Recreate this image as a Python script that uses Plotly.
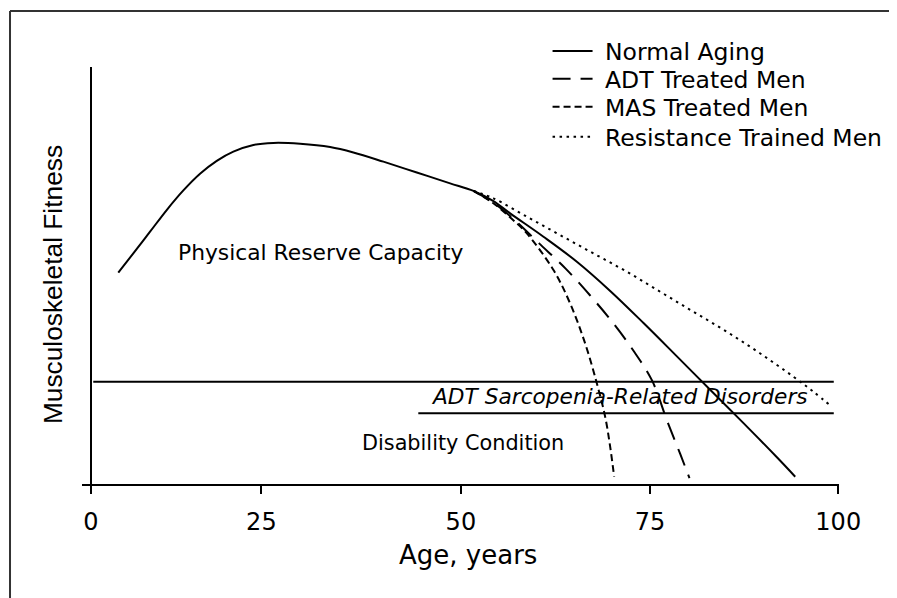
import plotly.graph_objects as go

# ---- data ----
age_normal = [3.65, 5.66, 7.90, 10.13, 12.36, 14.59, 16.83, 19.05, 21.73, 24.40, 27.98, 32.0,
              35.11, 39.13, 43.6, 48.06, 51.18, 53.8, 56.09, 60.55, 65.02, 69.48, 73.94,
              78.41, 82.86, 87.32, 91.79, 94.24]
fit_normal = [50.7, 55.3, 60.5, 65.7, 70.4, 74.4, 77.5, 79.7, 81.3, 81.8, 81.6, 80.8,
              79.5, 77.3, 74.7, 72.1, 70.3, 67.9, 64.9, 59.3, 53.3, 46.3, 38.6,
              30.6, 22.6, 14.6, 6.4, 1.75]

age_adt = [51.18, 53.8, 56.5, 59.97, 63.55, 66.8, 69.92, 72.69, 75.06, 77.15, 78.85, 80.09]
fit_adt = [70.3, 67.5, 63.6, 57.7, 51.6, 45.2, 38.5, 31.7, 24.9, 14.9, 7.2, 1.4]

age_mas = [51.18, 53.8, 56.3, 58.33, 61.89, 64.12, 66.13, 67.7, 68.81, 69.48, 70.01]
fit_mas = [70.3, 67.4, 63.6, 60.1, 51.3, 43.3, 33.7, 24.1, 16.1, 8.9, 1.75]

age_rt = [51.18, 53.86, 58.33, 62.78, 67.24, 71.71, 76.17, 80.63, 85.1, 89.56, 94.02, 96.69, 99.16]
fit_rt = [70.3, 68.5, 64.1, 59.7, 55.3, 50.9, 46.1, 41.3, 36.5, 31.3, 25.7, 22.1, 18.5]

# threshold lines
upper_x = [0.3, 99.4]
upper_y = [24.5, 24.5]
lower_x = [43.8, 99.4]
lower_y = [16.95, 16.95]

series_names = ["Normal Aging", "ADT Treated Men", "MAS Treated Men", "Resistance Trained Men"]
series_dash = ["solid", "18px,10px", "7px,4px", "2.5px,4.5px"]
series_x = [age_normal, age_adt, age_mas, age_rt]
series_y = [fit_normal, fit_adt, fit_mas, fit_rt]
tick_pos = [0, 22.8, 49.5, 74.8, 100]
tick_text = ["0", "25", "50", "75", "100"]

FONT = "DejaVu Sans"
legend_ids = ["legend", "legend2", "legend3", "legend4"]
legend_rows_y = [1.038, 0.971, 0.904, 0.832]

fig = go.Figure()
for i in range(4):
    fig.add_trace(go.Scatter(x=series_x[i], y=series_y[i], mode="lines",
                             name="\u00a0" + series_names[i], legend=legend_ids[i],
                             line=dict(color="black", width=2, dash=series_dash[i],
                                       shape="spline")))
fig.add_trace(go.Scatter(x=upper_x, y=upper_y, mode="lines", showlegend=False,
                         line=dict(color="black", width=2)))
fig.add_trace(go.Scatter(x=lower_x, y=lower_y, mode="lines", showlegend=False,
                         line=dict(color="black", width=2)))
# y axis line at age 0
fig.add_trace(go.Scatter(x=[0, 0], y=[0, 100], mode="lines", showlegend=False,
                         line=dict(color="black", width=2)))

fig.add_annotation(x=30.66, y=55.6, text="Physical Reserve Capacity", showarrow=False,
                   xanchor="center", yanchor="middle",
                   font=dict(family=FONT, size=21.8, color="black"))
fig.add_annotation(x=70.75, y=20.9, text="ADT Sarcopenia-Related Disorders", showarrow=False,
                   xanchor="center", yanchor="middle",
                   font=dict(family=FONT, size=21.7, color="black", style="italic"))
fig.add_annotation(x=49.73, y=9.83, text="Disability Condition", showarrow=False,
                   xanchor="center", yanchor="middle",
                   font=dict(family=FONT, size=20.8, color="black"))
# axis titles
fig.add_annotation(x=50.4, y=-0.17, xref="x", yref="paper", text="Age, years", showarrow=False,
                   xanchor="center", yanchor="middle",
                   font=dict(family=FONT, size=26, color="black"))
fig.add_annotation(x=-0.0383, y=47.7, xref="paper", yref="y", text="Musculoskeletal Fitness",
                   textangle=-90, showarrow=False, xanchor="center", yanchor="middle",
                   font=dict(family="Liberation Sans", size=26.3, color="black"))

# frame lines (top and left)
fig.add_shape(type="line", xref="paper", yref="paper", x0=-0.0951, x1=1.1, y0=1.1343, y1=1.1343,
              line=dict(color="#333", width=2))
fig.add_shape(type="line", xref="paper", yref="paper", x0=-0.0951, x1=-0.0951, y0=1.1343, y1=-0.32,
              line=dict(color="#333", width=2))

legend_common = dict(x=0.615, xanchor="left", yanchor="middle",
                     font=dict(family=FONT, size=23.5, color="black"),
                     bgcolor="rgba(0,0,0,0)", itemwidth=40)
layout_legends = {}
for lid, ly in zip(legend_ids, legend_rows_y):
    layout_legends[lid] = dict(legend_common, y=ly)

# the page body adds an 8px offset, so margins are shifted by 8px
fig.update_layout(
    width=897, height=598,
    margin=dict(l=74, r=66.25, t=59, b=122, autoexpand=False),
    paper_bgcolor="white", plot_bgcolor="white",
    showlegend=True,
    xaxis=dict(range=[-1.205, 100.1], showgrid=False, zeroline=False,
               showline=True, linecolor="black", linewidth=2,
               ticks="outside", ticklen=8, tickwidth=2, tickcolor="black",
               tickvals=tick_pos, ticktext=tick_text, ticklabelstandoff=7,
               tickfont=dict(family=FONT, size=24, color="black")),
    yaxis=dict(range=[0, 100], visible=False),
    **layout_legends,
)

fig.write_html("out.html")
